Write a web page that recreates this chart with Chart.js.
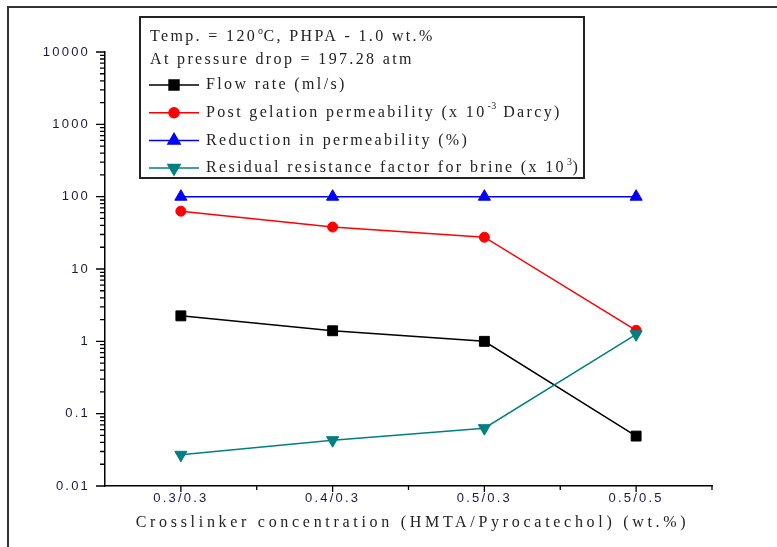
<!DOCTYPE html>
<html>
<head>
<meta charset="utf-8">
<script src="https://cdn.jsdelivr.net/npm/chart.js@4.4.1/dist/chart.umd.min.js"></script>
<style>
  html, body { margin: 0; padding: 0; background: #fff; }
  #wrap { width: 777px; height: 547px; }
</style>
</head>
<body>
<div id="wrap"><canvas id="myChart"></canvas></div>
<script>
// categories on x axis (HMTA/Pyrocatechol, wt.%)
var categories = ['0.3/0.3', '0.4/0.3', '0.5/0.3', '0.5/0.5'];

// series values
var flowRate = [2.25, 1.4, 1.0, 0.049];
var postGelationPerm = [63, 38, 27.5, 1.42];
var reductionPerm = [99.9, 99.9, 99.9, 99.9];
var residualResistance = [0.027, 0.043, 0.063, 1.25];

var yTicks = [0.01, 0.1, 1, 10, 100, 1000, 10000];

// legend header lines, [text, isSuperscript]
var legendHeader = [
  [['Temp. = 120', 0], ['o', 1], ['C, PHPA - 1.0 wt.%', 0]],
  [['At pressure drop = 197.28 atm', 0]]
];
var xTitle = 'Crosslinker concentration (HMTA/Pyrocatechol) (wt.%)';

function drawRich(ctx, x, y, parts) {
  parts.forEach(function (p) {
    if (p[1]) {
      ctx.font = '10px "Liberation Serif"';
      ctx.letterSpacing = '0.5px';
      ctx.fillText(p[0], x + 1, y - 6);
      x += 1;
    } else {
      ctx.font = '16px "Liberation Serif"';
      ctx.letterSpacing = '2.35px';
      ctx.fillText(p[0], x, y);
    }
    x += ctx.measureText(p[0]).width;
  });
}

var decor = {
  id: 'decor',
  beforeDraw: function (chart) {
    var ctx = chart.ctx;
    ctx.save();
    ctx.fillStyle = '#fff';
    ctx.fillRect(0, 0, chart.width, chart.height);
    ctx.strokeStyle = '#333';
    ctx.lineWidth = 2;
    ctx.beginPath();
    ctx.moveTo(8, chart.height);
    ctx.lineTo(8, 7);
    ctx.lineTo(chart.width, 7);
    ctx.stroke();
    ctx.restore();
    // stretched look of the tick labels
    ctx.letterSpacing = '2.2px';
  },
  afterDraw: function (chart) {
    var ctx = chart.ctx;
    var xs = chart.scales.x, ys = chart.scales.y;
    var area = chart.chartArea;
    ctx.save();
    ctx.strokeStyle = '#000';
    ctx.lineWidth = 1.3;
    ctx.beginPath();
    // x ticks: major at categories, minor between them
    var step = xs.getPixelForValue(1) - xs.getPixelForValue(0);
    categories.forEach(function (c, i) {
      var px = xs.getPixelForValue(i);
      ctx.moveTo(px, area.bottom); ctx.lineTo(px, area.bottom + 6);
      ctx.moveTo(px + step / 2, area.bottom); ctx.lineTo(px + step / 2, area.bottom + 4);
    });
    // y ticks: major at decades, minor 2..9
    yTicks.forEach(function (v) {
      var py = ys.getPixelForValue(v);
      ctx.moveTo(area.left - 9, py); ctx.lineTo(area.left, py);
      if (v < 10000) {
        for (var k = 2; k <= 9; k++) {
          var pm = ys.getPixelForValue(v * k);
          ctx.moveTo(area.left - 5, pm); ctx.lineTo(area.left, pm);
        }
      }
    });
    ctx.stroke();

    // x axis title
    ctx.fillStyle = '#222';
    ctx.font = '16px "Liberation Serif"';
    ctx.letterSpacing = '3.7px';
    ctx.textAlign = 'center';
    ctx.textBaseline = 'middle';
    ctx.fillText(xTitle, (area.left + area.right) / 2 + 4, 523);

    // legend box
    ctx.strokeStyle = '#222';
    ctx.lineWidth = 2;
    ctx.strokeRect(140, 17, 444, 161);
    ctx.textAlign = 'left';
    drawRich(ctx, 150, 37, legendHeader[0]);
    drawRich(ctx, 150, 60, legendHeader[1]);
    chart.data.datasets.forEach(function (ds, i) {
      var y = 85 + i * 27.7;
      ctx.strokeStyle = ds.borderColor;
      ctx.lineWidth = 1.5;
      ctx.beginPath();
      ctx.moveTo(149, y); ctx.lineTo(199, y);
      ctx.stroke();
      ctx.fillStyle = ds.backgroundColor;
      Chart.helpers.drawPoint(ctx, {
        pointStyle: ds.pointStyle,
        rotation: ds.pointRotation || 0,
        radius: ds.pointRadius,
        borderWidth: 1
      }, 174, y);
      ctx.fillStyle = '#222';
      drawRich(ctx, 206, y, ds.labelParts);
    });
    ctx.restore();
    ctx.letterSpacing = '0px';
  }
};

function series(label, parts, data, color, style, radius, rotation, order) {
  return {
    label: label,
    labelParts: parts,
    data: data,
    borderColor: color,
    backgroundColor: color,
    borderWidth: 1.5,
    pointStyle: style,
    pointRadius: radius,
    pointRotation: rotation,
    pointBorderWidth: 1,
    tension: 0,
    order: order
  };
}

new Chart('myChart', {
  type: 'line',
  data: {
    labels: categories,
    datasets: [
      series('Flow rate (ml/s)', [['Flow rate (ml/s)', 0]],
        flowRate, '#000000', 'rect', 7, 0, 3),
      series('Post gelation permeability (x 10-3 Darcy)',
        [['Post gelation permeability (x 10', 0], ['-3', 1], [' Darcy)', 0]],
        postGelationPerm, '#ff0000', 'circle', 5, 0, 2),
      series('Reduction in permeability (%)', [['Reduction in permeability (%)', 0]],
        reductionPerm, '#0000ff', 'triangle', 7, 0, 1),
      series('Residual resistance factor for brine (x 10^3)',
        [['Residual resistance factor for brine (x 10', 0], ['3', 1], [')', 0]],
        residualResistance, '#008080', 'triangle', 7, 180, 0)
    ]
  },
  options: {
    responsive: true,
    maintainAspectRatio: false,
    animation: false,
    layout: { padding: { top: 52, right: 65, left: 0, bottom: 0 } },
    plugins: {
      legend: { display: false },
      tooltip: { enabled: false }
    },
    scales: {
      x: {
        type: 'category',
        offset: true,
        grid: { display: false, drawTicks: false },
        border: { display: true, color: '#000', width: 1.5 },
        ticks: {
          color: '#1a1a40',
          font: { family: '"Liberation Sans"', size: 13 },
          padding: 5,
          autoSkip: false,
          maxRotation: 0
        },
        afterFit: function (scale) { scale.height = 61; }
      },
      y: {
        type: 'logarithmic',
        min: 0.01,
        max: 10000,
        grid: { display: false, drawTicks: false },
        border: { display: true, color: '#000', width: 1.5 },
        ticks: {
          color: '#1a1a40',
          font: { family: '"Liberation Sans"', size: 13 },
          padding: 15,
          callback: function (v) { return String(v); }
        },
        afterBuildTicks: function (scale) {
          scale.ticks = yTicks.map(function (v) { return { value: v, major: true }; });
        },
        afterFit: function (scale) { scale.width = 105; }
      }
    }
  },
  plugins: [decor]
});
</script>
</body>
</html>
